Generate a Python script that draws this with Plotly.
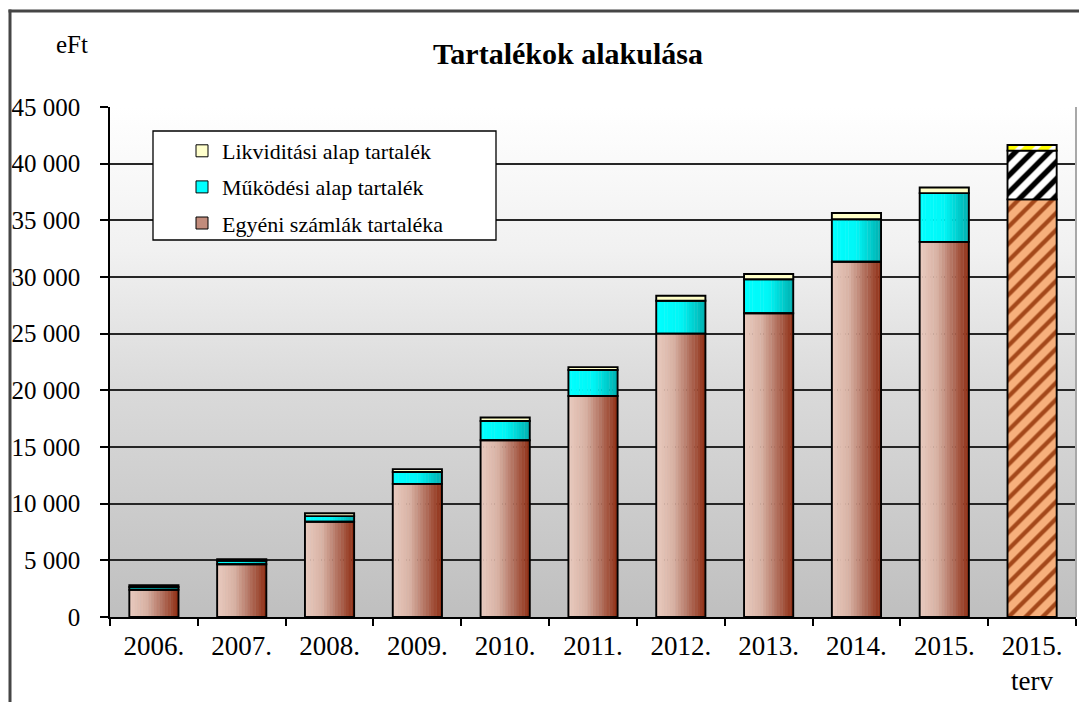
import base64
import plotly.graph_objects as go

# ---------------- data ----------------
categories = ['2006.', '2007.', '2008.', '2009.', '2010.', '2011.',
              '2012.', '2013.', '2014.', '2015.', '2015.<br>terv']
egyeni = [2400, 4650, 8400, 11750, 15600, 19500, 25000, 26800, 31350, 33100, 36850]
mukodesi = [250, 300, 500, 1050, 1700, 2300, 2900, 3000, 3750, 4300, 4300]
likvid = [150, 150, 250, 250, 300, 250, 450, 470, 550, 500, 500]
is_plan = [False] * 10 + [True]
series_names = ['Egyéni számlák tartaléka', 'Működési alap tartalék', 'Likviditási alap tartalék']
y_ticks = [0, 5000, 10000, 15000, 20000, 25000, 30000, 35000, 40000, 45000]

# ---------------- geometry helpers (screen px; page body has an 8px margin) ----------------
OFF = 8
W, H = 1087 - OFF, 702
PL, PR, PT, PB = 110, 1076, 107, 617          # plot area on screen
ML, MT = PL - OFF, PT - OFF
MR, MB = W - (PR - OFF), H - (PB - OFF)


def px_x(p):
    return (p - PL) / (PR - PL)


def px_y(p):
    return (PB - p) / (PB - PT)


FONT = 'Liberation Serif'
BAR_W = 0.56
N_SLICES = 18


def hex2rgb(h):
    h = h.lstrip('#')
    return [int(h[i:i + 2], 16) for i in (0, 2, 4)]


def interp(stops, t):
    for (t0, c0), (t1, c1) in zip(stops[:-1], stops[1:]):
        if t0 <= t <= t1:
            f = (t - t0) / (t1 - t0) if t1 > t0 else 0
            a, b = hex2rgb(c0), hex2rgb(c1)
            return 'rgb(%d,%d,%d)' % tuple(round(a[i] + (b[i] - a[i]) * f) for i in range(3))
    return stops[-1][1]


brown_stops = [(0, '#e9cbbf'), (0.35, '#d8b2a4'), (0.65, '#b47462'), (1.0, '#8e2c12')]
cyan_stops = [(0, '#00ffff'), (0.5, '#00f6f6'), (1.0, '#00aeae')]

base_e = [0] * len(categories)
base_m = list(egyeni)
base_l = [a + b for a, b in zip(egyeni, mukodesi)]

fig = go.Figure()

# gradient slices (actual years)
for vals, bases, stops in [(egyeni, base_e, brown_stops), (mukodesi, base_m, cyan_stops)]:
    yv = [None if p else v for v, p in zip(vals, is_plan)]
    sw = BAR_W / N_SLICES
    for k in range(N_SLICES):
        t = (k + 0.5) / N_SLICES
        fig.add_trace(go.Bar(
            x=categories, y=yv, base=bases,
            width=sw + 0.004, offset=-BAR_W / 2 + k * sw,
            marker=dict(color=interp(stops, t), line=dict(width=0)),
            showlegend=False, hoverinfo='skip'))

# outlines for actual years + hatched plan bar
seg_styles = [
    (egyeni, base_e, 'rgba(0,0,0,0)', '#f7b07c', '#a4481a', 0.36),
    (mukodesi, base_m, 'rgba(0,0,0,0)', '#ffffff', '#000000', 0.45),
    (likvid, base_l, '#ffffc8', '#ffff00', '#ffffff', 0.35),
]
for (vals, bases, col, pbg, pfg, sol), name in zip(seg_styles, series_names):
    fig.add_trace(go.Bar(
        x=categories, y=[None if p else v for v, p in zip(vals, is_plan)], base=bases,
        name=name, width=BAR_W, offset=-BAR_W / 2,
        marker=dict(color=col, line=dict(color='#000000', width=1.9)),
        showlegend=False))
    idx = [i for i, p in enumerate(is_plan) if p]
    fig.add_trace(go.Bar(
        x=[categories[i] for i in idx], y=[vals[i] for i in idx], base=[bases[i] for i in idx],
        name=name, width=BAR_W, offset=-BAR_W / 2,
        marker=dict(color=pbg, line=dict(color='#000000', width=1.9),
                    pattern=dict(shape='/', bgcolor=pbg, fgcolor=pfg, fgopacity=1,
                                 size=12, solidity=sol, fillmode='replace')),
        showlegend=False))

# legend entries
legend_cols = {'Likviditási alap tartalék': '#ffffcc',
               'Működési alap tartalék': '#00ffff',
               'Egyéni számlák tartaléka': '#c28c7c'}
for name in reversed(series_names):
    fig.add_trace(go.Bar(x=[categories[0]], y=[None], name=name, legendgroup=name,
                         marker=dict(color=legend_cols[name], line=dict(color='#000000', width=1))))

# plot-area background gradient as svg image
svg = ("<svg xmlns='http://www.w3.org/2000/svg' width='10' height='100' preserveAspectRatio='none'>"
       "<defs><linearGradient id='g' x1='0' y1='0' x2='0' y2='1'>"
       "<stop offset='0' stop-color='#ffffff'/><stop offset='0.28' stop-color='#f1f1f1'/>"
       "<stop offset='0.55' stop-color='#dadada'/><stop offset='1' stop-color='#bfbfbf'/>"
       "</linearGradient></defs><rect width='10' height='100' fill='url(#g)'/></svg>")
src = 'data:image/svg+xml;base64,' + base64.b64encode(svg.encode()).decode()

fig.update_layout(
    width=W, height=H,
    margin=dict(l=ML, r=MR, t=MT, b=MB, pad=0, autoexpand=False),
    paper_bgcolor='#ffffff', plot_bgcolor='rgba(0,0,0,0)',
    barmode='overlay', separators=', ',
    font=dict(family=FONT, color='#000000'),
    images=[dict(source=src, xref='paper', yref='paper', x=0, y=1, sizex=1, sizey=1,
                 xanchor='left', yanchor='top', sizing='stretch', layer='below')],
    title=dict(text='<b>Tartalékok alakulása</b>', x=(568 - OFF) / W, xanchor='center',
               y=1 - (53 - OFF) / H, yanchor='middle', xref='container', yref='container',
               font=dict(family=FONT, size=30, color='#000000')),
    legend=dict(x=px_x(182), y=px_y(130), xanchor='left', yanchor='top',
                bgcolor='rgba(0,0,0,0)', borderwidth=0, tracegroupgap=4.5,
                font=dict(family=FONT, size=22, color='#000000'), traceorder='grouped'),
    xaxis=dict(type='category', range=[-0.5, len(categories) - 0.5], tickson='boundaries',
               ticks='outside', ticklen=7, tickwidth=1.5, tickcolor='#000000',
               showline=True, linecolor='#000000', linewidth=1.5, showgrid=False,
               ticklabelstandoff=4, automargin=False,
               tickfont=dict(family=FONT, size=27, color='#000000')),
    yaxis=dict(range=[0, 45000], tickvals=y_ticks, tickformat=',d',
               ticks='outside', ticklen=8, tickwidth=1.5, tickcolor='#000000',
               showline=True, linecolor='#000000', linewidth=1.5,
               showgrid=True, gridcolor='#262626', gridwidth=1.5, zeroline=False,
               ticklabelstandoff=15, automargin=False,
               tickfont=dict(family=FONT, size=25, color='#000000')),
    annotations=[dict(text='eFt', xref='paper', yref='paper', x=px_x(72), y=px_y(44),
                      xanchor='center', yanchor='middle', showarrow=False,
                      font=dict(family=FONT, size=25, color='#000000'))],
    shapes=[
        # outer chart frame (left and top edges visible)
        dict(type='line', xref='paper', yref='paper', x0=px_x(10), x1=px_x(10),
             y0=px_y(9.5), y1=px_y(730), line=dict(color='#454545', width=3), layer='above'),
        dict(type='line', xref='paper', yref='paper', x0=px_x(8.5), x1=px_x(1120),
             y0=px_y(11), y1=px_y(11), line=dict(color='#454545', width=3), layer='above'),
        dict(type='line', xref='paper', yref='paper', x0=1, x1=1, y0=0, y1=1,
             line=dict(color='#a8a8a8', width=2), layer='above'),
        dict(type='rect', xref='paper', yref='paper', x0=px_x(153), x1=px_x(496),
             y0=px_y(131), y1=px_y(240), line=dict(color='#000000', width=1.3),
             fillcolor='#ffffff', layer='above'),
    ],
)

fig.write_html('out.html')
